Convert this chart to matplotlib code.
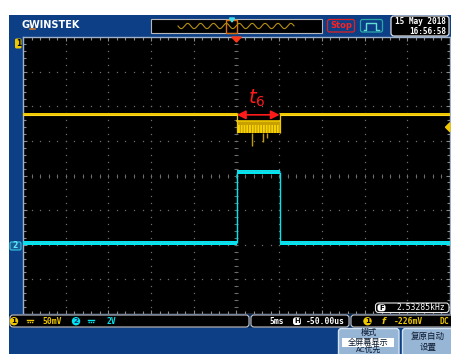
import numpy as np
import matplotlib
matplotlib.use("Agg")
import matplotlib.pyplot as plt
from matplotlib.patches import FancyBboxPatch, Rectangle, Polygon, Circle

plt.rcParams['font.family'] = ['DejaVu Sans', 'Noto Sans CJK SC']
plt.rcParams['hatch.linewidth'] = 0.6

# ---- acquisition settings ----
time_per_div_ms = 5.0
h_position_ms = -0.05
ch1_scale_mv = 50.0
ch2_scale_v = 2.0
ch1_offset_div = 5.9        # CH1 ground reference sits above the top of the screen
ch2_offset_div = -2.05
trigger_level_mv = -226.0
freq_text = "2.53285kHz"

# ---- CH2: gate pulse (V) ----
ch2_edges_ms = [-25.05, 0.0, 5.0, 24.95]
ch2_levels_v = [0.20, 4.30, 0.20]
ch2_halfband_v = [0.14, 0.12, 0.14]

# ---- CH1: signal (mV), upper/lower edge of the trace band per segment ----
ch1_edges_ms = [-25.05, 0.0, 5.0, 24.95]
ch1_top_mv = [-205.4, -215.6, -205.4]
ch1_bottom_mv = [-209.8, -234.3, -209.8]
ch1_spike_ms = [1.78, 3.07, 3.54]
ch1_spike_mv = [-252.0, -247.0, -241.0]

# ---- t6 interval ----
t6_start_ms, t6_end_ms = 0.0, 5.0

BLUE = '#0d3f86'
YEL = '#f0c800'
CYAN = '#00e6f0'
W, H = 452, 354


def c1(mv):
    return np.asarray(mv) / ch1_scale_mv + ch1_offset_div


def c2(v):
    return np.asarray(v) / ch2_scale_v + ch2_offset_div


fig = plt.figure(figsize=(W / 100, H / 100), dpi=100)
fig.patch.set_facecolor('white')

# background panel in pixel coordinates
bg = fig.add_axes([0, 0, 1, 1], zorder=0)
bg.set_xlim(0, W)
bg.set_ylim(H, 0)
bg.axis('off')
bg.add_patch(Rectangle((9, 15), W - 9, H - 15, facecolor=BLUE, edgecolor='none'))

# ---- waveform screen ----
sx0, sy0, sx1, sy1 = 23, 37, 450, 314
ax = fig.add_axes([sx0 / W, 1 - sy1 / H, (sx1 - sx0) / W, (sy1 - sy0) / H], zorder=1)
ax.set_facecolor('black')
xc = h_position_ms
ax.set_xlim(xc - 5 * time_per_div_ms, xc + 5 * time_per_div_ms)
ax.set_ylim(-4, 4)
for s in ax.spines.values():
    s.set_color('#9fb2cc')
    s.set_linewidth(1.0)
ax.set_xticks([xc + k * time_per_div_ms for k in range(-5, 6)])
ax.set_xticks(np.arange(xc - 25, xc + 25.01, 1.0), minor=True)
ax.set_yticks(np.arange(-4, 5, 1))
ax.set_yticks(np.arange(-4, 4.01, 0.2), minor=True)
ax.tick_params(which='both', direction='in', top=True, right=True,
               labelbottom=False, labelleft=False, color='#8a8a8a', width=0.8)
ax.tick_params(which='major', length=3)
ax.tick_params(which='minor', length=2)

# dotted graticule
gc = '#6e6e6e'
ydots = np.arange(-4, 4.01, 0.2)
xdots = np.arange(xc - 25, xc + 25.01, 1.0)
for k in range(-4, 5):
    x = xc + k * time_per_div_ms
    ax.plot(np.full_like(ydots, x), ydots, ls='none', marker='s', ms=0.9,
            mew=0, color=gc, zorder=1)
for yv in range(-3, 4):
    ax.plot(xdots, np.full_like(xdots, yv), ls='none', marker='s', ms=0.9,
            mew=0, color=gc, zorder=1)
# centre cross with minor ticks
ax.plot(xdots, np.zeros_like(xdots), ls='none', marker='|', ms=3, mew=0.7,
        color=gc, zorder=1)
ax.plot(np.full_like(ydots, xc), ydots, ls='none', marker='_', ms=3, mew=0.7,
        color=gc, zorder=1)

# ---- CH1 trace ----
for i in range(3):
    xs = [ch1_edges_ms[i], ch1_edges_ms[i + 1]]
    lo, hi = c1(ch1_bottom_mv[i]), c1(ch1_top_mv[i])
    if i == 1:
        ax.fill_between(xs, lo, hi, facecolor='#f8d400', edgecolor='#b08800',
                        hatch='||||||', linewidth=0, zorder=3)
        ax.fill_between(xs, hi - 0.12, hi, facecolor='#c8a000', linewidth=0, zorder=3.5)
        ax.plot(xs, [hi, hi], color=YEL, lw=1.2, zorder=4)
    else:
        ax.fill_between(xs, lo, hi, facecolor=YEL, linewidth=0, zorder=3)
        ax.plot(xs, [(lo + hi) / 2] * 2, color='#ffd820', lw=0.8, zorder=4)
for e in ch1_edges_ms[1:3]:
    ax.vlines(e, c1(ch1_bottom_mv[1]), c1(ch1_top_mv[0]), color=YEL, lw=0.9, zorder=4)
ax.vlines(ch1_spike_ms, c1(ch1_bottom_mv[1]), c1(ch1_spike_mv), color='#c49c00',
          lw=1.0, zorder=3)

# ---- CH2 trace ----
for i in range(3):
    xs = [ch2_edges_ms[i], ch2_edges_ms[i + 1]]
    lvl, hb = ch2_levels_v[i], ch2_halfband_v[i]
    ax.fill_between(xs, c2(lvl - hb), c2(lvl + hb), facecolor=CYAN, linewidth=0, zorder=3)
    ax.plot(xs, [c2(lvl + hb * 0.55)] * 2, color='#30c8d8', lw=0.5, zorder=4)
for e in ch2_edges_ms[1:3]:
    ax.vlines(e, c2(ch2_levels_v[0]), c2(ch2_levels_v[1]), color=CYAN, lw=1.0, zorder=4)

# ---- t6 annotation ----
ya = c1(ch1_top_mv[0]) - 0.04
ax.annotate('', xy=(t6_start_ms, ya), xytext=(t6_end_ms, ya),
            arrowprops=dict(arrowstyle='<|-|>', color='#ff1a1a', lw=1.2,
                            mutation_scale=13, shrinkA=0, shrinkB=0), zorder=6)
ax.text((t6_start_ms + t6_end_ms) / 2 - 0.2, ya + 0.18, r'$t_6$', color='#ff1a1a',
        fontsize=14, ha='center', va='bottom', zorder=6)

# ---- overlay for markers and panel items ----
ov = fig.add_axes([0, 0, 1, 1], zorder=2)
ov.set_xlim(0, W)
ov.set_ylim(H, 0)
ov.axis('off')
ov.patch.set_alpha(0)

mono = 'DejaVu Sans Mono'

# brand
ov.text(22, 24.5, 'GWINSTEK', color='white', fontsize=7, fontweight='bold',
        ha='left', va='center')
ov.plot([30.5, 35.5], [28.6, 28.6], color='#e08020', lw=1.1)

# memory overview bar
ov.add_patch(Rectangle((151, 19), 171, 14, facecolor='black', edgecolor='#b8b8b8', lw=0.8))
wx = np.linspace(178, 294, 300)
ov.plot(wx, 26 + 2.6 * np.sin((wx - 178) / 12.9 * 2 * np.pi), color='#b89010', lw=0.8)
ov.add_patch(Rectangle((226, 19.5), 11.5, 13, facecolor='none', edgecolor='#d87010', lw=1.0))
ov.add_patch(Polygon([[229.5, 18], [234.5, 18], [232, 22]], color='#40e0f0'))

# run state and icon
ov.add_patch(FancyBboxPatch((327.5, 19.5), 27, 12.5, boxstyle='round,pad=0,rounding_size=2',
                            facecolor=BLUE, edgecolor='#e02020', lw=0.9))
ov.text(341, 25.8, 'Stop', color='#ff2020', fontsize=6, fontweight='bold',
        ha='center', va='center')
ov.add_patch(FancyBboxPatch((360.5, 19.5), 22, 12.5, boxstyle='round,pad=0,rounding_size=2',
                            facecolor=BLUE, edgecolor='#2aa8a8', lw=0.9))
ov.plot([364, 366.5, 366.5, 376.5, 376.5, 379], [29.5, 29.5, 22.5, 22.5, 29.5, 29.5],
        color='#60e0d0', lw=1.0)

# date / time
ov.add_patch(FancyBboxPatch((391, 16), 58, 20, boxstyle='round,pad=0,rounding_size=3',
                            facecolor='black', edgecolor='#e0e0e0', lw=0.9))
ov.text(446, 22, '15 May 2018', color='white', family=mono, fontsize=5.6,
        fontweight='bold', ha='right', va='center')
ov.text(446, 31, '16:56:58', color='white', family=mono, fontsize=5.6,
        fontweight='bold', ha='right', va='center')

# channel markers on the screen edge
ov.add_patch(FancyBboxPatch((15, 38.5), 6.5, 10, boxstyle='round,pad=0,rounding_size=1.5',
                            facecolor=YEL, edgecolor='none'))
ov.text(18.3, 43.8, '1', color='black', fontsize=5.5, fontweight='bold',
        ha='center', va='center')
y2 = 175 - c2(0.0) * 277 / 8
ov.add_patch(FancyBboxPatch((10, y2 - 4), 11, 8, boxstyle='round,pad=0,rounding_size=1.5',
                            facecolor='#1a5c98', edgecolor='#30c8e0', lw=0.8))
ov.text(15.5, y2, '2', color='#60e8f8', fontsize=5.5, fontweight='bold',
        ha='center', va='center')
# trigger position and level markers
ov.add_patch(Polygon([[231.8, 37], [241.2, 37], [236.5, 42]], color='#ff3818'))
yt = 175 - c1(trigger_level_mv) * 277 / 8
ov.add_patch(Polygon([[450, yt - 4.5], [450, yt + 4.5], [445.5, yt]], color=YEL))

# frequency readout
ov.add_patch(FancyBboxPatch((375.5, 303), 73.5, 9.5, boxstyle='round,pad=0,rounding_size=3',
                            facecolor='black', edgecolor='#e8e8e8', lw=0.8))
ov.add_patch(FancyBboxPatch((377.5, 304.3), 8, 7, boxstyle='round,pad=0,rounding_size=2.5',
                            facecolor='white', edgecolor='none'))
ov.text(381.5, 307.9, 'F', color='black', fontsize=5, fontweight='bold',
        ha='center', va='center')
ov.text(396, 307.9, freq_text, color='white', family=mono, fontsize=5.8,
        ha='left', va='center')

# status bar
ov.add_patch(Rectangle((9, 314), W - 9, 13.5, facecolor='#0a2c5c', edgecolor='none'))
for x0, x1 in [(10, 249), (251, 349), (351, 456)]:
    ov.add_patch(FancyBboxPatch((x0, 315), x1 - x0, 12, boxstyle='round,pad=0,rounding_size=3',
                                facecolor='black', edgecolor='#c8c8c8', lw=0.8))
ys = 321.2


def chip(x, label, face, txt='black'):
    ov.add_patch(Circle((x, ys), 4.2, facecolor=face, edgecolor='none'))
    ov.text(x, ys + 0.2, label, color=txt, fontsize=5.2, fontweight='bold',
            ha='center', va='center')


def dc_sym(x, color):
    ov.plot([x, x + 6], [ys - 1.2, ys - 1.2], color=color, lw=1.0)
    ov.plot([x, x + 6], [ys + 0.8, ys + 0.8], color=color, lw=1.0, ls=(0, (1, 0.6)))


chip(14, '1', YEL)
dc_sym(27, YEL)
ov.text(42, ys, f'{ch1_scale_mv:.0f}mV', color=YEL, family=mono, fontsize=5.8,
        fontweight='bold', ha='left', va='center')
chip(76, '2', CYAN, '#0a3070')
dc_sym(88, CYAN)
ov.text(107, ys, f'{ch2_scale_v:.0f}V', color=CYAN, family=mono, fontsize=5.8,
        fontweight='bold', ha='left', va='center')
ov.text(269, ys, f'{time_per_div_ms:.0f}ms', color='white', family=mono, fontsize=5.8,
        fontweight='bold', ha='left', va='center')
ov.add_patch(FancyBboxPatch((293, ys - 3.8), 8, 7.6, boxstyle='round,pad=0,rounding_size=2.5',
                            facecolor='white', edgecolor='none'))
ov.text(297, ys + 0.2, 'H', color='black', fontsize=5, fontweight='bold',
        ha='center', va='center')
ov.text(306, ys, f'{h_position_ms * 1000:.2f}us', color='white', family=mono,
        fontsize=5.8, fontweight='bold', ha='left', va='center')
chip(367.5, '1', YEL)
ov.text(383, ys, 'f', color=YEL, fontsize=6.5, fontstyle='italic', fontweight='bold',
        ha='center', va='center')
ov.text(394, ys, f'{trigger_level_mv:.0f}mV', color=YEL, family=mono, fontsize=5.8,
        fontweight='bold', ha='left', va='center')
ov.text(449, ys, 'DC', color=YEL, family=mono, fontsize=5.8, fontweight='bold',
        ha='right', va='center')

# soft-key menu
cjk = ['Noto Sans CJK SC', 'DejaVu Sans']
ov.add_patch(FancyBboxPatch((338.5, 328.5), 60.5, 35, boxstyle='round,pad=0,rounding_size=3',
                            facecolor='#97b5d5', edgecolor='#d5e4f2', lw=1.0))
ov.add_patch(FancyBboxPatch((402.5, 328.5), 55, 35, boxstyle='round,pad=0,rounding_size=3',
                            facecolor='#97b5d5', edgecolor='#d5e4f2', lw=1.0))
ov.text(368.5, 332.8, '模式', color='#0c1a30', family=cjk, fontsize=5.9,
        ha='center', va='center')
ov.add_patch(Rectangle((342, 338.3), 52.5, 8.3, facecolor='white', edgecolor='none'))
ov.text(368.5, 342.4, '全屏幕显示', color='#0c1a30', family=cjk, fontsize=5.9,
        ha='center', va='center')
ov.text(368.5, 349.8, 'AC优先', color='#0c1a30', family=cjk, fontsize=5.6,
        ha='center', va='center')
ov.text(428, 336.0, '复原自动', color='#0c1a30', family=cjk, fontsize=6.1,
        ha='center', va='center')
ov.text(428, 347.5, '设置', color='#0c1a30', family=cjk, fontsize=6.1,
        ha='center', va='center')

fig.savefig('out.png', dpi=100, facecolor='white')
